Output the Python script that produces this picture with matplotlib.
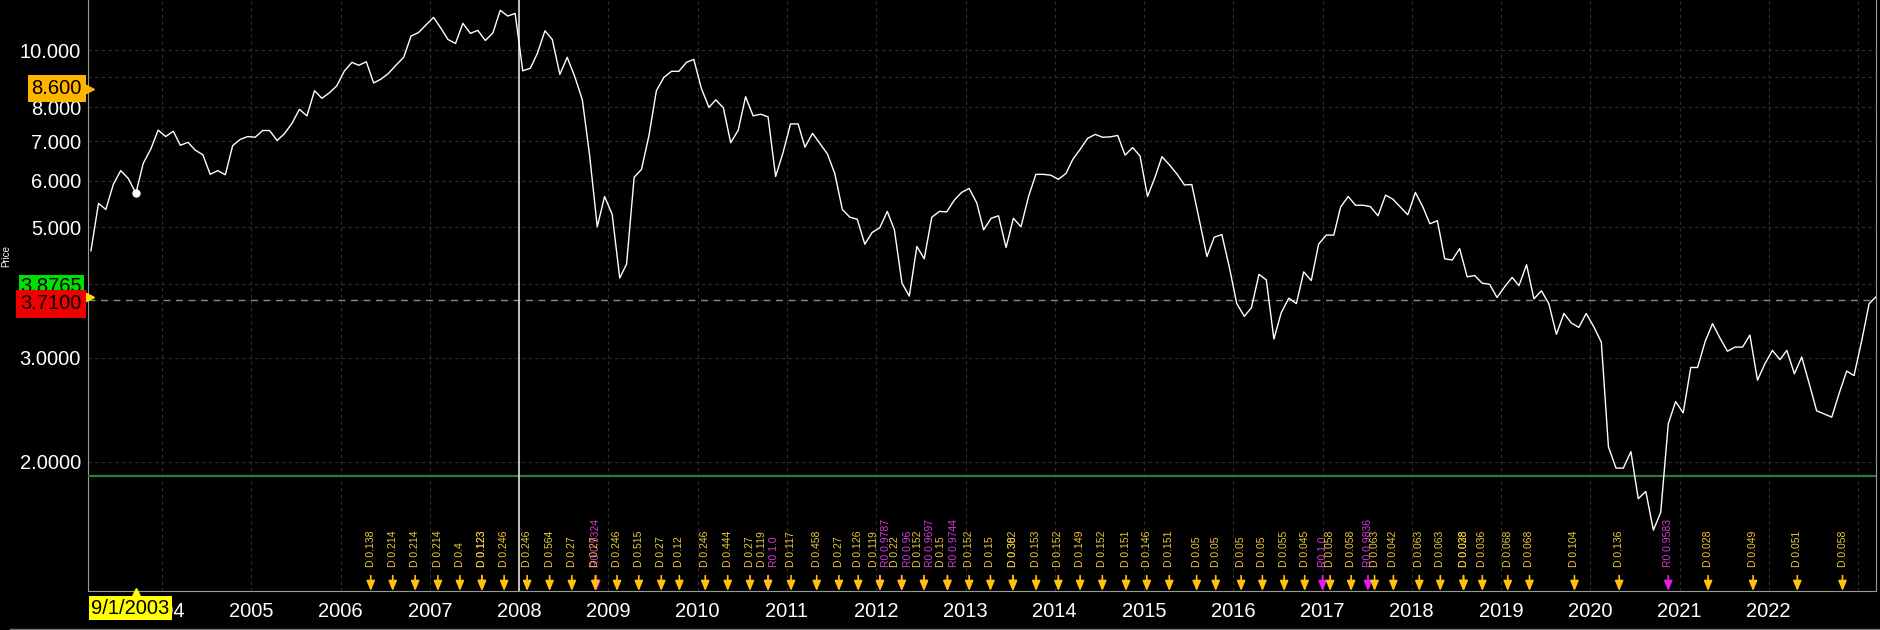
import pandas as pd
import matplotlib
matplotlib.use("Agg")
import matplotlib.pyplot as plt
import matplotlib.dates as mdates
from matplotlib import transforms
from matplotlib.lines import Line2D
from matplotlib.ticker import NullLocator, NullFormatter, FixedLocator

plt.rcParams["font.family"] = ["Liberation Sans", "DejaVu Sans"]

# monthly closes, first one in March 2003
START = "2003-03-16"
prices = [
    4.56, 5.49, 5.36, 5.92, 6.24, 6.05, 5.71, 6.42, 6.79, 7.31,
    7.13, 7.28, 6.89, 6.97, 6.76, 6.64, 6.15, 6.24, 6.14, 6.88,
    7.05, 7.13, 7.11, 7.30, 7.30, 7.02, 7.21, 7.51, 7.93, 7.73,
    8.53, 8.28, 8.46, 8.69, 9.21, 9.53, 9.42, 9.55, 8.79, 8.93,
    9.13, 9.43, 9.72, 10.56, 10.71, 11.03, 11.36, 10.88, 10.42, 10.26,
    11.10, 10.67, 10.80, 10.38, 10.69, 11.68, 11.42, 11.54, 9.22, 9.31,
    9.87, 10.78, 10.42, 9.09, 9.72, 9.01, 8.23, 6.61, 5.01, 5.64,
    5.26, 4.10, 4.33, 6.08, 6.27, 7.17, 8.53, 8.99, 9.20, 9.20,
    9.53, 9.64, 8.61, 7.99, 8.23, 7.98, 6.96, 7.31, 8.33, 7.73,
    7.78, 7.70, 6.10, 6.69, 7.49, 7.49, 6.84, 7.22, 6.94, 6.66,
    6.17, 5.36, 5.20, 5.16, 4.68, 4.90, 4.99, 5.32, 4.95, 4.02,
    3.82, 4.64, 4.42, 5.20, 5.32, 5.31, 5.56, 5.73, 5.82, 5.50,
    4.95, 5.18, 5.23, 4.62, 5.18, 5.01, 5.64, 6.15, 6.15, 6.13,
    6.03, 6.17, 6.52, 6.79, 7.08, 7.19, 7.11, 7.12, 7.16, 6.63,
    6.83, 6.61, 5.64, 6.09, 6.59, 6.38, 6.16, 5.90, 5.91, 5.14,
    4.46, 4.81, 4.86, 4.29, 3.71, 3.53, 3.65, 4.16, 4.07, 3.23,
    3.58, 3.79, 3.71, 4.20, 4.06, 4.68, 4.85, 4.85, 5.41, 5.64,
    5.45, 5.45, 5.42, 5.23, 5.67, 5.58, 5.41, 5.25, 5.73, 5.41,
    5.07, 5.13, 4.42, 4.40, 4.60, 4.12, 4.14, 4.02, 4.00, 3.80,
    3.96, 4.11, 3.98, 4.32, 3.78, 3.90, 3.71, 3.29, 3.57, 3.44,
    3.38, 3.57, 3.39, 3.19, 2.12, 1.95, 1.95, 2.08, 1.73, 1.78,
    1.53, 1.64, 2.32, 2.53, 2.42, 2.89, 2.89, 3.20, 3.43, 3.24,
    3.08, 3.13, 3.13, 3.28, 2.75, 2.93, 3.09, 2.98, 3.09, 2.82,
    3.01, 2.71, 2.44, 2.41, 2.38, 2.61, 2.85, 2.80, 3.20, 3.71,
    3.81,
]
dates = [pd.Timestamp(START) + pd.DateOffset(months=i) for i in range(len(prices))]

# dividend (D) and rights (R0) events
event_dates = [
    "2006-05-04", "2006-08-02", "2006-11-02", "2007-02-03", "2007-05-04",
    "2007-08-02", "2007-08-02", "2007-11-01", "2008-02-03", "2008-05-05",
    "2008-08-04", "2008-11-08", "2008-11-12", "2009-02-05", "2009-05-05",
    "2009-08-05", "2009-10-18", "2010-02-01", "2010-05-04", "2010-08-03",
    "2010-10-16", "2010-10-16", "2011-01-18", "2011-05-03", "2011-08-02",
    "2011-10-20", "2012-01-17", "2012-01-17", "2012-04-15", "2012-04-15",
    "2012-07-15", "2012-07-15", "2012-10-19", "2012-10-19", "2013-01-16",
    "2013-04-13", "2013-07-14", "2013-07-14", "2013-10-17", "2014-01-16",
    "2014-04-15", "2014-07-15", "2014-10-20", "2015-01-13", "2015-04-15",
    "2015-08-05", "2015-10-22", "2016-02-03", "2016-04-30", "2016-07-28",
    "2016-10-20", "2017-01-01", "2017-02-01", "2017-04-28", "2017-07-06",
    "2017-08-02", "2017-10-18", "2018-02-01", "2018-04-28", "2018-08-01",
    "2018-08-01", "2018-10-17", "2019-01-29", "2019-04-28", "2019-10-29",
    "2020-04-29", "2020-11-16", "2021-04-28", "2021-10-29", "2022-04-28",
    "2022-10-30",
]
event_labels = [
    "D 0.138", "D 0.214", "D 0.214", "D 0.214", "D 0.4",
    "D 0.123", "D 0.123", "D 0.246", "D 0.246", "D 0.564",
    "D 0.27", "D 0.27", "R0 0.9324", "D 0.246", "D 0.515",
    "D 0.27", "D 0.12", "D 0.246", "D 0.444", "D 0.27",
    "D 0.119", "R0 1.0", "D 0.117", "D 0.458", "D 0.27",
    "D 0.126", "D 0.119", "R0 0.9787", "D 0.22", "R0 0.96",
    "D 0.152", "R0 0.9697", "D 0.15", "R0 0.9744", "D 0.152",
    "D 0.15", "D 0.302", "D 0.38", "D 0.153", "D 0.152",
    "D 0.149", "D 0.152", "D 0.151", "D 0.146", "D 0.151",
    "D 0.05", "D 0.05", "D 0.05", "D 0.05", "D 0.055",
    "D 0.045", "R0 1.0", "D 0.058", "D 0.058", "R0 0.9836",
    "D 0.063", "D 0.042", "D 0.063", "D 0.063", "D 0.038",
    "D 0.028", "D 0.036", "D 0.068", "D 0.068", "D 0.104",
    "D 0.136", "R0 0.9583", "D 0.028", "D 0.049", "D 0.051",
    "D 0.058",
]

year_ticks = list(range(2004, 2024))
year_labels = [str(y) for y in year_ticks[:-1]] + [""]
# 9 and 4 sit under the price tags, so they carry no label
price_ticks = [2, 3, 4, 5, 6, 7, 8, 9, 10]
price_labels = ["2.0000", "3.0000", "", "5.000", "6.000",
                "7.000", "8.000", "", "10.000"]

marked_date = "9/1/2003"
marked_index = 6
crosshair_date = "2008-01-01"
last_price = 3.81
ref_line = 3.77
support_line = 1.89
high_tag = 8.6
green_tag = 3.97
red_tag = 3.71

W, H = 1881, 630
fig = plt.figure(figsize=(W / 100, H / 100), dpi=100, facecolor="black")
ax = fig.add_axes([88 / W, 39 / H, (1876 - 88) / W, 591 / H])
ax.set_facecolor("black")

ax.plot(dates, prices, color="white", lw=1.0, zorder=5)
ax.plot(dates[marked_index], prices[marked_index], "o", color="white", ms=5, zorder=6)

ax.set_yscale("log")
ax.set_ylim(1.206, 12.16)
ax.set_xlim(pd.Timestamp(START) - pd.Timedelta(days=12), dates[-1])

ax.yaxis.set_major_locator(FixedLocator(price_ticks))
ax.yaxis.set_minor_locator(NullLocator())
ax.yaxis.set_minor_formatter(NullFormatter())
ax.set_yticklabels(price_labels)
ax.set_xticks([mdates.date2num(pd.Timestamp(f"{y}-01-01")) for y in year_ticks])
ax.set_xticklabels(year_labels)
ax.tick_params(axis="both", length=0, colors="white", labelsize=14.5)
ax.tick_params(axis="x", pad=8)
ax.tick_params(axis="y", pad=5)

ax.grid(True, color="#2e2e2e", ls=(0, (3, 3)), lw=0.8)
ax.set_axisbelow(True)
for side in ["left", "bottom", "right"]:
    ax.spines[side].set_color("#9a9a9a")
ax.spines["top"].set_visible(False)

ax.axhline(support_line, color="#2f7a34", lw=1.6, zorder=3)
ax.axhline(ref_line, color="#8a8a8a", ls=(0, (5, 4)), lw=1, zorder=3)
ax.axvline(pd.Timestamp(crosshair_date), color="#e0e0e0", lw=1.2, zorder=4)

# event arrows and labels along the bottom
xtrans = ax.get_xaxis_transform()
groups = {}
for d, lab in zip(event_dates, event_labels):
    groups.setdefault(d, []).append(lab)
for d, labs in groups.items():
    x = mdates.date2num(pd.Timestamp(d))
    kinds = {l.split()[0] for l in labs}
    for lab in sorted(labs, key=lambda l: l.startswith("D")):
        kind = lab.split()[0]
        if kind == "D":
            acol, tcol, z = "#FFC20E", "#F2C838", 7
        else:
            acol, tcol, z = "#E81CE8", "#D83CD8", 6
        dx = 0
        if len(kinds) > 1:
            dx = -4.5 if kind == "D" else 4.5
        ax.annotate("", xy=(x, 0.0), xytext=(x, 0.026), xycoords=xtrans,
                    arrowprops=dict(arrowstyle="-|>,head_length=0.6,head_width=0.25",
                                    color=acol, lw=1.2, shrinkA=0, shrinkB=0,
                                    mutation_scale=10),
                    zorder=z, annotation_clip=False)
        ax.annotate(lab, xy=(x, 0.041), xycoords=xtrans, xytext=(dx, 0),
                    textcoords="offset points", rotation=90, ha="center",
                    va="bottom", fontsize=7.5, color=tcol, zorder=z)

# price tags on the left axis
ftrans = transforms.blended_transform_factory(fig.transFigure, ax.transData)
ytrans = ax.get_yaxis_transform()
fig.text(82 / W, high_tag, "8.600", transform=ftrans, ha="right", va="center",
         fontsize=14.5, color="black",
         bbox=dict(boxstyle="square,pad=0.2", fc="#FFB400", ec="none"))
ax.plot([0], [high_tag], marker=">", color="#FFB400", ms=9, transform=ytrans,
        clip_on=False, zorder=8)
fig.text(82 / W, green_tag, "3.8765", transform=ftrans, ha="right", va="center",
         fontsize=14.5, color="black",
         bbox=dict(boxstyle="square,pad=0.08", fc="#00E000", ec="none"))
fig.text(82 / W, red_tag, "3.7100", transform=ftrans, ha="right", va="center",
         fontsize=14.5, color="black",
         bbox=dict(boxstyle="square,pad=0.22", fc="#EE0000", ec="none"))
ax.plot([0], [last_price], marker=">", color="#FFE000", ms=9, transform=ytrans,
        clip_on=False, zorder=8)

fig.text(6 / W, 1 - 256 / H, "Price", rotation=90, fontsize=7, color="white",
         ha="center", va="center")

# date tag below the marked point
fig.text(91 / W, 1 - 608 / H, marked_date, ha="left", va="center", fontsize=14.5,
         color="black", bbox=dict(boxstyle="square,pad=0.12", fc="#FFFF00", ec="none"),
         zorder=10)
ax.plot(dates[marked_index], -0.004, marker="^", color="#FFFF00", ms=7,
        transform=xtrans, clip_on=False, zorder=10)

fig.add_artist(Line2D([10 / W, 1], [1 - 629 / H] * 2, color="#707070", lw=1))

fig.savefig("out.png", dpi=100, facecolor="black")
